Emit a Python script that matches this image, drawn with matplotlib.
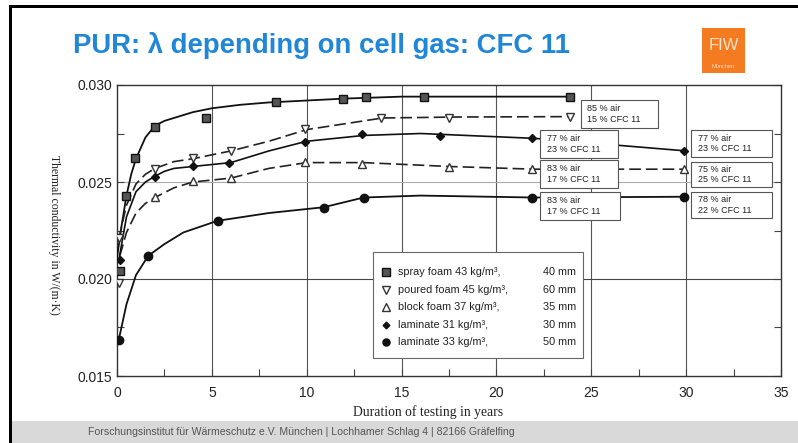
import matplotlib.pyplot as plt
from matplotlib.patches import Rectangle

# slide colours
title_blue = '#1f86d8'
fiw_orange = '#f47b20'
footer_gray = '#d9d9d9'

# measured points (years, W/(m K))
spray_x = [0.15, 0.45, 0.95, 2.0, 4.7, 8.4, 11.9, 13.1, 16.2, 23.9]
spray_y = [0.0204, 0.0243, 0.02625, 0.02785, 0.0283, 0.0291, 0.0293, 0.0294, 0.0294, 0.0294]
poured_x = [0.1, 0.1, 2.0, 4.0, 6.0, 9.9, 13.9, 17.5, 23.9]
poured_y = [0.0198, 0.0221, 0.02566, 0.02624, 0.02661, 0.02773, 0.02831, 0.02828, 0.02837]
block_x = [2.0, 4.0, 6.0, 9.9, 12.9, 17.5, 21.9, 29.9]
block_y = [0.02421, 0.02505, 0.02522, 0.02605, 0.02593, 0.02576, 0.02566, 0.02566]
lam31_x = [0.15, 2.0, 4.0, 5.9, 9.9, 12.9, 17.0, 21.9, 29.9]
lam31_y = [0.0210, 0.02524, 0.02584, 0.02596, 0.02708, 0.02747, 0.02737, 0.02725, 0.02661]
lam33_x = [0.1, 1.65, 5.3, 10.9, 13.0, 21.9, 29.9]
lam33_y = [0.01686, 0.02119, 0.02299, 0.02368, 0.02416, 0.02416, 0.02424]

# fitted curves as drawn in the original
spray_cx = [0.0, 0.25, 0.5, 0.75, 1.0, 1.5, 2.0, 2.5, 3.0, 4.0, 5.0, 6.5, 8.0, 10.0, 12.0, 15.0, 23.9]
spray_cy = [0.0211, 0.0228, 0.0243, 0.0254, 0.0262, 0.0273, 0.0279, 0.02815, 0.0283, 0.0286, 0.0288,
            0.02898, 0.0291, 0.0292, 0.0293, 0.0294, 0.0294]
poured_cx = [0.1, 0.5, 1.0, 1.5, 2.0, 3.0, 4.0, 5.0, 6.0, 7.0, 8.0, 10.0, 12.0, 14.0, 18.0, 23.9]
poured_cy = [0.0221, 0.0238, 0.0249, 0.0254, 0.0257, 0.02605, 0.0262, 0.0264, 0.0266, 0.02685, 0.0271,
             0.0277, 0.0280, 0.0283, 0.02835, 0.02837]
block_cx = [0.15, 0.5, 1.0, 1.5, 2.0, 3.0, 4.0, 6.0, 8.0, 10.0, 13.0, 17.5, 22.0, 29.9]
block_cy = [0.0212, 0.0224, 0.0234, 0.0239, 0.0242, 0.0247, 0.0250, 0.0252, 0.0257, 0.0260, 0.0260,
            0.0258, 0.02566, 0.02566]
lam31_cx = [0.1, 0.5, 1.0, 1.5, 2.0, 2.5, 3.0, 4.0, 6.0, 8.0, 10.0, 13.0, 16.0, 22.0, 29.9]
lam31_cy = [0.0210, 0.0232, 0.0245, 0.0250, 0.0253, 0.02555, 0.0257, 0.0258, 0.0260, 0.0266, 0.0271,
            0.0274, 0.0275, 0.02725, 0.02661]
lam33_cx = [0.1, 0.5, 1.0, 1.65, 2.5, 3.5, 5.3, 8.0, 10.9, 13.0, 16.0, 22.0, 29.9]
lam33_cy = [0.0169, 0.0187, 0.0202, 0.0212, 0.0218, 0.0224, 0.0230, 0.0234, 0.0237, 0.0242, 0.0243,
            0.0242, 0.02424]

names = ['spray foam 43 kg/m³,', 'poured foam 45 kg/m³,', 'block foam 37 kg/m³,',
         'laminate 31 kg/m³,', 'laminate 33 kg/m³,']
thickness = ['40 mm', '60 mm', '35 mm', '30 mm', '50 mm']

box_labels = ['85 % air\n15 % CFC 11', '77 % air\n23 % CFC 11', '83 % air\n17 % CFC 11',
              '83 % air\n17 % CFC 11', '77 % air\n23 % CFC 11', '75 % air\n25 % CFC 11',
              '78 % air\n22 % CFC 11']
# box corners (x left, x right, y top, y bottom) in data units
box_pos = [(24.45, 28.5, 0.02923, 0.02777), (22.3, 26.4, 0.02768, 0.02624),
           (22.3, 26.4, 0.02613, 0.02469), (22.3, 26.5, 0.02448, 0.02304),
           (30.25, 34.5, 0.02768, 0.02629), (30.25, 34.5, 0.02603, 0.02474),
           (30.25, 34.5, 0.02448, 0.02314)]

W, H = 798, 443
fig = plt.figure(figsize=(W / 100, H / 100), dpi=100)
fig.patch.set_facecolor('white')

# slide decoration
fig.patches.append(Rectangle((12 / W, 0), 1, 22 / H, transform=fig.transFigure,
                             facecolor=footer_gray, edgecolor='none', zorder=0))
fig.patches.append(Rectangle((9 / W, 0), 3 / W, 1 - 5 / H, transform=fig.transFigure,
                             facecolor='black', edgecolor='none'))
fig.patches.append(Rectangle((9 / W, 1 - 8 / H), 1, 3 / H, transform=fig.transFigure,
                             facecolor='black', edgecolor='none'))
fig.patches.append(Rectangle((702 / W, 1 - 73 / H), 43 / W, 45 / H,
                             transform=fig.transFigure, facecolor=fiw_orange, edgecolor='none'))
fig.text(723.5 / W, 1 - 46 / H, 'FIW', color='#fbe3cf', fontsize=12,
         family='Liberation Sans', ha='center', va='center')
fig.text(723.5 / W, 1 - 66 / H, 'München', color='#fbd9bd', fontsize=4,
         family='Liberation Sans', ha='center', va='center')

fig.text(73 / W, 1 - 53 / H, 'PUR: λ depending on cell gas: CFC 11', color=title_blue,
         fontsize=19.8, fontweight='bold', family='Liberation Sans', va='baseline')
fig.text(88 / W, 1 - 432 / H,
         'Forschungsinstitut für Wärmeschutz e.V. München | Lochhamer Schlag 4 | 82166 Gräfelfing',
         color='#555555', fontsize=7.6, family='Liberation Sans', va='center')

ax = fig.add_axes([117 / W, 1 - 376 / H, 664 / W, 291 / H])
ax.set_xlim(0, 35)
ax.set_ylim(0.015, 0.030)
ax.set_xticks(range(0, 36, 5))
ax.set_xticks([2.5 + 5 * i for i in range(7)], minor=True)
ax.set_yticks([0.015, 0.020, 0.025, 0.030])
ax.set_yticklabels(['0.015', '0.020', '0.025', '0.030'])
ax.set_yticks([0.0175, 0.0225, 0.0275], minor=True)
ax.tick_params(which='both', direction='in', length=5, width=0.8, color='#444444',
               labelsize=10, labelcolor='#222222', top=False, right=True)
ax.tick_params(axis='x', pad=7)
for lab in ax.get_xticklabels() + ax.get_yticklabels():
    lab.set_family('Liberation Sans')
for sp in ax.spines.values():
    sp.set_color('#333333')
    sp.set_linewidth(1.0)

for v in range(5, 35, 5):
    ax.axvline(v, color='#555555', lw=0.8, zorder=1)
ax.axhline(0.020, color='#444444', lw=0.8, zorder=1)
ax.axhline(0.025, color='#aaaaaa', lw=0.8, zorder=1)

fig.text(428 / W, 1 - 412 / H, 'Duration of testing in years', family='Liberation Serif',
         fontsize=9.8, color='#222222', ha='center', va='center')
fig.text(54 / W, 1 - 235 / H, 'Thermal conductivity in W/(m·K)', family='Liberation Serif',
         fontsize=8.5, color='#222222', rotation=270, ha='center', va='center')

dash = (0, (7, 3))
ax.plot(spray_cx, spray_cy, color='#111111', lw=1.3, zorder=3)
ax.plot(poured_cx, poured_cy, color='#222222', lw=1.2, ls=dash, zorder=3)
ax.plot(block_cx, block_cy, color='#222222', lw=1.2, ls=dash, zorder=3)
ax.plot(lam31_cx, lam31_cy, color='#111111', lw=1.2, zorder=3)
ax.plot(lam33_cx, lam33_cy, color='#111111', lw=1.3, zorder=3)

styles = [
    dict(marker='s', ms=6, mfc='#555555', mec='#111111'),
    dict(marker='v', ms=6, mfc='white', mec='#333333'),
    dict(marker='^', ms=6, mfc='white', mec='#333333'),
    dict(marker='D', ms=4, mfc='#111111', mec='#111111'),
    dict(marker='o', ms=6, mfc='#111111', mec='#111111'),
]
series = [(spray_x, spray_y), (poured_x, poured_y), (block_x, block_y),
          (lam31_x, lam31_y), (lam33_x, lam33_y)]
for (xs, ys), st in zip(series, styles):
    ax.plot(xs, ys, ls='none', zorder=4, **st)

for (x0, x1, yt, yb), txt in zip(box_pos, box_labels):
    ax.add_patch(Rectangle((x0, yb), x1 - x0, yt - yb, facecolor='white',
                           edgecolor='#555555', lw=0.8, zorder=5))
    ax.text(x0 + 0.35, (yt + yb) / 2, txt, fontsize=6.5, family='Liberation Sans',
            color='#222222', va='center', ha='left', linespacing=1.25, zorder=6)

# legend box drawn by hand so the thickness column lines up
def ax_frac(px, py):
    return (px - 117) / 664, (376 - py) / 291

lx0, ly0 = ax_frac(373, 358)
lx1, ly1 = ax_frac(583, 252)
ax.add_patch(Rectangle((lx0, ly0), lx1 - lx0, ly1 - ly0, transform=ax.transAxes,
                       facecolor='white', edgecolor='#666666', lw=0.8, zorder=7))
row_py = [272, 290, 307, 324.5, 342]
for py, name, mm, st in zip(row_py, names, thickness, styles):
    mx, my = ax_frac(386, py)
    ax.plot([mx], [my], transform=ax.transAxes, ls='none', zorder=8, clip_on=False,
            **dict(st, ms=st['ms'] * 0.85))
    tx, _ = ax_frac(398, py)
    ax.text(tx, my, name, transform=ax.transAxes, fontsize=7.8, family='Liberation Sans',
            color='#222222', va='center', ha='left', zorder=8)
    rx, _ = ax_frac(576, py)
    ax.text(rx, my, mm, transform=ax.transAxes, fontsize=7.8, family='Liberation Sans',
            color='#222222', va='center', ha='right', zorder=8)

fig.savefig('out.png', dpi=100)
